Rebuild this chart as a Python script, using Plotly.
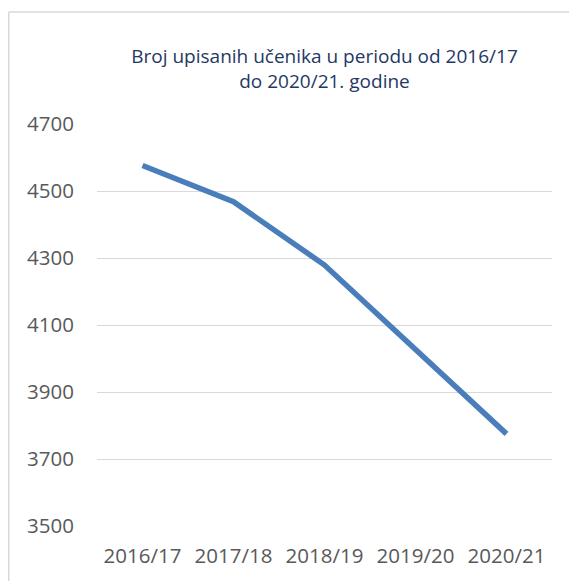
import plotly.graph_objects as go

years = ["2016/17", "2017/18", "2018/19", "2019/20", "2020/21"]
students = [4576, 4468, 4279, 4027, 3775]
y_ticks = [3500, 3700, 3900, 4100, 4300, 4500, 4700]

# the page body adds an 8px offset; size figure so it fills the window
W, H = 569, 573
L, R, T, B = 89, 25, 116, 55
PW, PH = W - L - R, H - T - B

def px_x(x):
    return (x - L) / PW

def px_y(y):
    return (H - B - y) / PH

fig = go.Figure()
fig.add_trace(go.Scatter(x=years, y=students, mode="lines",
                         line=dict(color="#4A7EBB", width=5.5)))

fig.update_layout(
    width=W, height=H,
    margin=dict(l=L, r=R, t=T, b=B),
    paper_bgcolor="white", plot_bgcolor="white",
    showlegend=False,
    font=dict(family="Open Sans", color="#595959"),
    title=dict(text="Broj upisanih učenika u periodu od 2016/17<br>do 2020/21. godine",
               x=0.5, xref="paper", xanchor="center", y=1 - 55 / H, yanchor="middle",
               font=dict(family="Open Sans", size=19, color="#1F3864")),
    xaxis=dict(type="category", range=[-0.5, 4.5], showgrid=False, showline=False,
               ticks="", ticklabelstandoff=15, tickfont=dict(size=20.5, color="#595959")),
    yaxis=dict(range=[3500, 4700], tickvals=y_ticks, showgrid=True,
               gridcolor="#D9D9D9", gridwidth=1.3, zeroline=False, showline=False,
               ticks="", ticklabelstandoff=22,
               tickfont=dict(size=20.5, color="#595959")),
    shapes=[
        dict(type="line", xref="paper", yref="paper", x0=px_x(0.75), x1=px_x(W),
             y0=px_y(4), y1=px_y(4), line=dict(color="#D9D9D9", width=1.5)),
        dict(type="line", xref="paper", yref="paper", x0=px_x(0.75), x1=px_x(0.75),
             y0=px_y(4), y1=px_y(H), line=dict(color="#D9D9D9", width=1.5)),
    ],
)
fig.write_html("out.html")
